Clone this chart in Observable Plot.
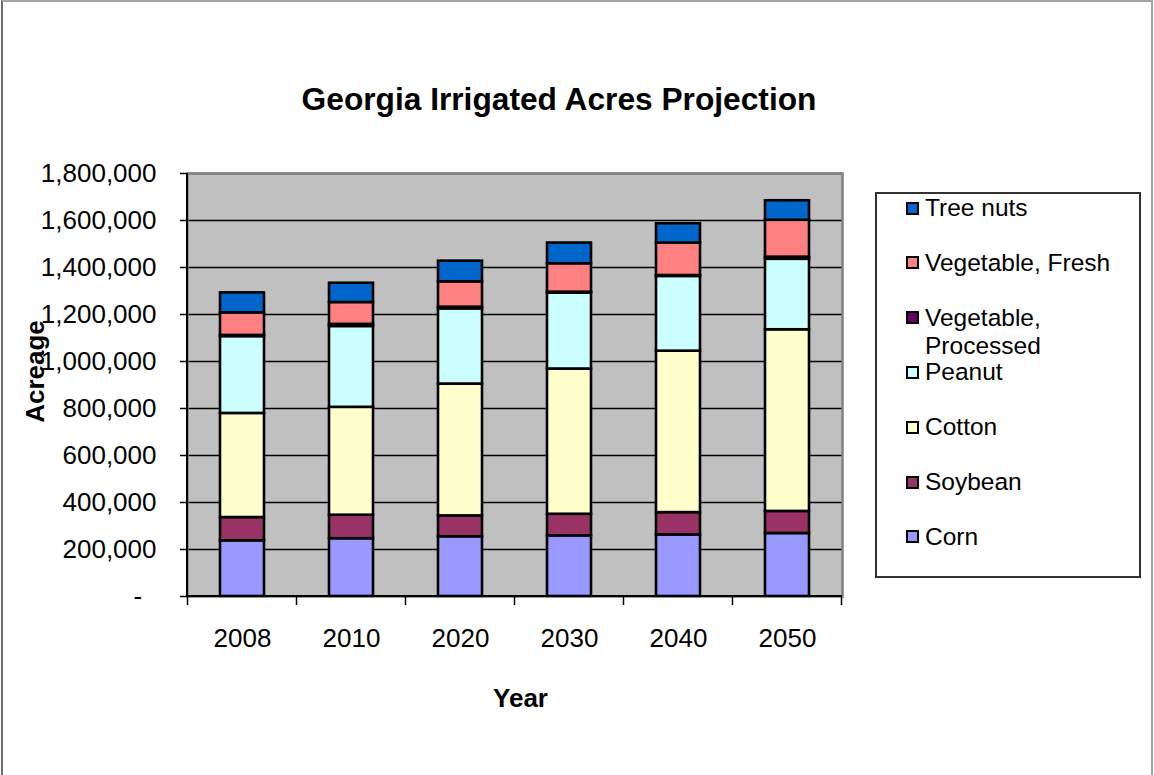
<!DOCTYPE html>
<html>
<head>
<meta charset="utf-8">
<script src="https://cdn.jsdelivr.net/npm/d3@7"></script>
<script src="https://cdn.jsdelivr.net/npm/@observablehq/plot@0.6"></script>
<style>
  body { margin: 0; background: #fff; }
  #wrap { position: relative; width: 1154px; height: 775px; overflow: hidden;
          font-family: "Liberation Sans", Arial, sans-serif; background: #fff; }
  #wrap svg { position: absolute; left: 0; top: 0; }
  #border { position: absolute; left: 1px; top: 0; width: 1152px; height: 820px; box-sizing: border-box;
            border-left: 2px solid #6e6e6e; border-top: 2px solid #a4a4a4; border-right: 2px solid #a4a4a4; }
  #legend { position: absolute; left: 875px; top: 192px; width: 266px; height: 386px; box-sizing: border-box;
            border: 2px solid #333; background: #fff; }
  .item { position: absolute; left: 29px; }
  .sw { position: absolute; left: 0; top: 7.5px; width: 13px; height: 13px; box-sizing: border-box; border: 2px solid #000; }
  .lab { position: absolute; left: 19px; top: 0; line-height: 28px; font-size: 24.5px; white-space: nowrap; color: #000; }
</style>
</head>
<body>
<div id="wrap"><div id="border"></div></div>
<script>
// ---- data ----
const years = ["2008", "2010", "2020", "2030", "2040", "2050"];
const crops = ["Corn", "Soybean", "Cotton", "Peanut", "Vegetable, Processed", "Vegetable, Fresh", "Tree nuts"];
const colors = ["#9999FF", "#993366", "#FFFFCC", "#CCFFFF", "#660066", "#FF8080", "#0066CC"];
const corn         = [237000, 246000, 254000, 258000, 262000, 268000];
const soybean      = [99000, 100000, 89000, 92000, 95000, 94000];
const cotton       = [443000, 459000, 561000, 618000, 687000, 773000];
const peanut       = [327000, 344000, 320000, 323000, 318000, 300000];
const vegProcessed = [5000, 9000, 7000, 4000, 4000, 9000];
const vegFresh     = [96000, 93000, 108000, 121000, 138000, 157000];
const treeNuts     = [85000, 82000, 88000, 88000, 82000, 83000];
const yTicks = [0, 200000, 400000, 600000, 800000, 1000000, 1200000, 1400000, 1600000, 1800000];
const titleText = "Georgia Irrigated Acres Projection";
const xTitle = "Year";
const yTitle = "Acreage";

const series = [corn, soybean, cotton, peanut, vegProcessed, vegFresh, treeNuts];
const data = [];
years.forEach((yr, i) => {
  crops.forEach((c, j) => data.push({year: yr, crop: c, value: series[j][i]}));
});

const fmt = d3.format(",");
const tickFormat = d => d === 0 ? "-\u00a0\u00a0" : fmt(d);

// axis lines + category boundary ticks (Excel style)
function axisLines(index, scales, values, dims) {
  const {marginLeft: l, marginTop: t, marginRight: r, marginBottom: b, width: w, height: h} = dims;
  const x = scales.x;
  const step = x(years[1]) - x(years[0]);
  const bw = typeof x.bandwidth === "function" ? x.bandwidth() : (x.bandwidth ?? step * 0.4);
  const g = d3.create("svg:g").attr("stroke", "#000");
  const bounds = years.map(yr => x(yr) - (step - bw) / 2);
  bounds.push(bounds[bounds.length - 1] + step);
  g.selectAll("line.tk").data(bounds).join("line")
    .attr("x1", d => d).attr("x2", d => d)
    .attr("y1", h - b).attr("y2", h - b + 9).attr("stroke-width", 1.5);
  g.append("line").attr("x1", l).attr("x2", l).attr("y1", t).attr("y2", h - b).attr("stroke-width", 2);
  g.append("line").attr("x1", l).attr("x2", w - r).attr("y1", h - b).attr("y2", h - b).attr("stroke-width", 2);
  return g.node();
}

const chart = Plot.plot({
  width: 1154,
  height: 775,
  marginLeft: 187,
  marginRight: 312,
  marginTop: 173,
  marginBottom: 179,
  style: {fontFamily: "'Liberation Sans', Arial, sans-serif", fontSize: "26px", background: "transparent", color: "#000", overflow: "visible"},
  x: {domain: years, paddingInner: 0.6, paddingOuter: 0.3, align: 0.5, label: null},
  y: {domain: [0, 1800000], label: null},
  color: {domain: crops, range: colors},
  marks: [
    Plot.frame({fill: "#C0C0C0", stroke: "none"}),
    Plot.ruleY(yTicks.filter(t => t > 0), {stroke: "#000", strokeWidth: 1.3}),
    Plot.barY(data, {x: "year", y: "value", fill: "crop", stroke: "#000", strokeWidth: 2.6}),
    Plot.frame({stroke: "#808080", strokeWidth: 2.5}),
    axisLines,
    Plot.axisY({ticks: yTicks, tickSize: 7, tickPadding: 24, tickFormat, label: null, strokeWidth: 1.5}),
    Plot.axisX({tickSize: 0, tickPadding: 32, label: null}),
    Plot.text([titleText], {text: d => d, frameAnchor: "top", lineAnchor: "bottom", dx: 44, dy: -64, fontSize: 31.7, fontWeight: "bold"}),
    Plot.text([xTitle], {text: d => d, frameAnchor: "bottom", lineAnchor: "bottom", dx: 5.5, dy: 110, fontSize: 26, fontWeight: "bold"}),
    Plot.text([yTitle], {text: d => d, frameAnchor: "left", textAnchor: "middle", lineAnchor: "bottom", rotate: -90, dx: -144, dy: -13.5, fontSize: 26, fontWeight: "bold"})
  ]
});

const wrap = document.getElementById("wrap");
wrap.appendChild(chart);

// legend
const legend = document.createElement("div");
legend.id = "legend";
const order = crops.map((c, i) => i).reverse();
order.forEach((ci, k) => {
  const center = 208 + 54.8 * k;
  const item = document.createElement("div");
  item.className = "item";
  item.style.top = (center - 14 - 192 - 2) + "px";
  const sw = document.createElement("span");
  sw.className = "sw";
  sw.style.background = colors[ci];
  const lab = document.createElement("span");
  lab.className = "lab";
  const name = crops[ci];
  if (name === "Vegetable, Processed") {
    lab.innerHTML = "Vegetable,<br>Processed";
  } else {
    lab.textContent = name;
  }
  item.appendChild(sw);
  item.appendChild(lab);
  legend.appendChild(item);
});
wrap.appendChild(legend);
</script>
</body>
</html>
